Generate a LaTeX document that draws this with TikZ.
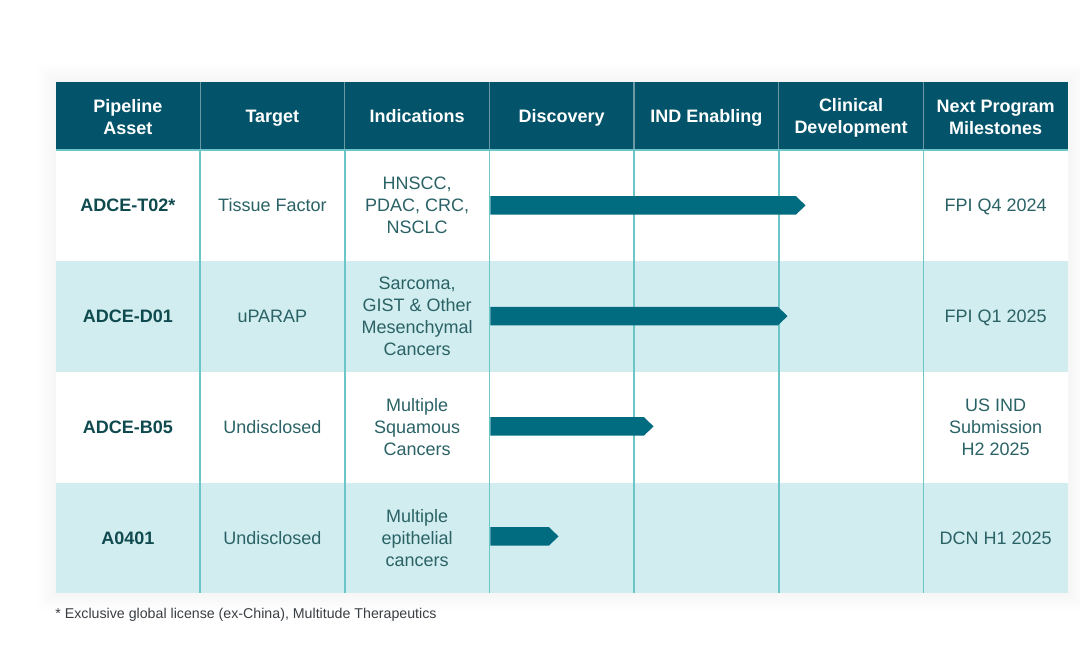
\documentclass[tikz,border=0pt]{standalone}
\usepackage{fontspec}
\setmainfont{Liberation Sans}
\usetikzlibrary{positioning}

\definecolor{headteal}{HTML}{03546A}
\definecolor{rowtint}{HTML}{D1EDEF}
\definecolor{gridteal}{HTML}{6CC6C7}
\definecolor{headgrid}{HTML}{6B98A2}
\definecolor{barteal}{HTML}{016C80}
\definecolor{assetink}{HTML}{0F4A4F}
\definecolor{cellink}{HTML}{2A6266}
\definecolor{noteink}{HTML}{3A3F44}

\tikzset{
  txt/.style={font=\fontsize{9}{11}\selectfont, align=center, inner sep=0pt},
  oneline/.style={anchor=base, yshift=-3.25pt},
  head/.style={txt, font=\fontsize{9}{11}\selectfont\bfseries, text=white},
  asset/.style={txt, font=\fontsize{9}{11}\selectfont\bfseries, text=assetink, oneline},
  cell/.style={txt, text=cellink},
  stagebar/.style={fill=barteal, draw=none},
}

\begin{document}
\begin{tikzpicture}[x=0.5pt, y=-0.5pt]
    \useasboundingbox[fill=white] (0,0) rectangle (1080,646);

    % Soft halo round the table
    \foreach \d in {2,4,...,18}
        \fill[black, opacity=0.005] (55.5-\d,82-\d) rectangle (1068+\d,593+\d);

    % Table background
    \fill[white] (55.5,82) rectangle (1068,593);
    \fill[headteal] (55.5,82) rectangle (1068,150);
    \fill[rowtint] (55.5,261) rectangle (1068,372);
    \fill[rowtint] (55.5,483) rectangle (1068,593);

    % Column separators
    \foreach \i in {1,...,6} {
        \draw[headgrid, line width=0.6pt] ({55.5+144.64*\i},82) -- ({55.5+144.64*\i},150);
        \draw[gridteal, line width=0.8pt] ({55.5+144.64*\i},150) -- ({55.5+144.64*\i},593);
    }
    \draw[gridteal, line width=0.6pt] (55.5,150) -- (1068,150);

    % Header
    \node[head] (hasset) at (127.8,117) {Pipeline\\Asset};
    \node[head, oneline] (htarget) at (272.4,116) {Target};
    \node[head, oneline] (hind) at (417.1,116) {Indications};
    \node[head, oneline] (hdisc) at (561.7,116) {Discovery};
    \node[head, oneline] (hind2) at (706.4,116) {IND Enabling};
    \node[head] (hclin) at (851.0,118) {Clinical\\Development};
    \node[head] (hmile) at (995.7,117) {Next Program\\Milestones};

    % Rows
    \node[asset] (a1) at (127.8,205.4) {ADCE-T02*};
    \node[cell, oneline] (t1) at (272.4,205.4) {Tissue Factor};
    \node[cell] (i1) at (417.1,205.4) {HNSCC,\\PDAC, CRC,\\NSCLC};
    \node[cell, oneline] (m1) at (995.7,205.4) {FPI Q4 2024};

    \node[asset] (a2) at (127.8,316.1) {ADCE-D01};
    \node[cell, oneline] (t2) at (272.4,316.1) {uPARAP};
    \node[cell] (i2) at (417.1,316.1) {Sarcoma,\\GIST \& Other\\Mesenchymal\\Cancers};
    \node[cell, oneline] (m2) at (995.7,316.1) {FPI Q1 2025};

    \node[asset] (a3) at (127.8,426.9) {ADCE-B05};
    \node[cell, oneline] (t3) at (272.4,426.9) {Undisclosed};
    \node[cell] (i3) at (417.1,426.9) {Multiple\\Squamous\\Cancers};
    \node[cell] (m3) at (995.7,426.9) {US IND\\Submission\\H2 2025};

    \node[asset] (a4) at (127.8,537.6) {A0401};
    \node[cell, oneline] (t4) at (272.4,537.6) {Undisclosed};
    \node[cell] (i4) at (417.1,537.6) {Multiple\\epithelial\\cancers};
    \node[cell, oneline] (m4) at (995.7,537.6) {DCN H1 2025};

    % Stage bars
    \foreach \y/\e in {205.4/796, 316.1/778, 426.4/644, 536.4/549} {
        \fill[stagebar] (490.3,\y-9.2) -- (\e,\y-9.2) -- (\e+9.5,\y) -- (\e,\y+9.2) -- (490.3,\y+9.2) -- cycle;
    }

    % Footnote
    \node[anchor=west, inner sep=0pt, text=noteink, font=\fontsize{7.1}{8}\selectfont] (note) at (55,615) {* Exclusive global license (ex-China), Multitude Therapeutics};

\end{tikzpicture}
\end{document}
